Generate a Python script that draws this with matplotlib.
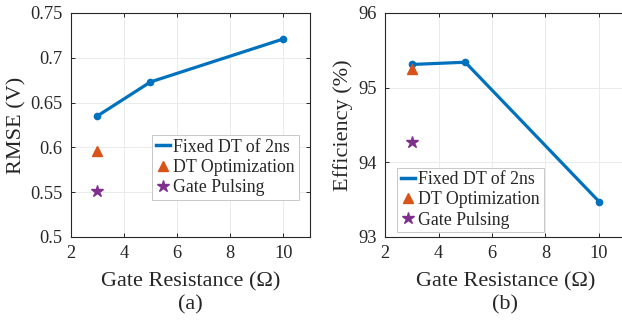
import matplotlib
matplotlib.use('Agg')
import matplotlib.pyplot as plt
from matplotlib.lines import Line2D

plt.rcParams['font.family'] = ['Liberation Serif', 'DejaVu Serif']

# data
gate_r = [3, 5, 10]
rmse_fixed = [0.635, 0.673, 0.721]
eff_fixed = [95.31, 95.34, 93.475]

opt_r = [3]
rmse_opt = [0.596]
eff_opt = [95.255]

pulse_r = [3]
rmse_pulse = [0.551]
eff_pulse = [94.275]

blue = '#0072BD'
orange = '#D95319'
purple = '#7E2F8E'
ink = '#262626'

fig = plt.figure(figsize=(6.22, 3.21), dpi=100)
ax1 = fig.add_axes([0.1137, 0.2617, 0.3847, 0.698])
ax2 = fig.add_axes([0.619, 0.2617, 0.387, 0.698])


def style_axis(ax):
    ax.set_xlim(2, 11)
    ax.set_xticks([2, 4, 6, 8, 10])
    ax.grid(True, color='#ebebeb', linewidth=0.7)
    ax.set_axisbelow(True)
    ax.tick_params(direction='in', length=3, width=0.7, labelsize=13.2,
                   top=True, right=True, pad=6, colors=ink)
    for s in ax.spines.values():
        s.set_linewidth(0.8)
        s.set_color(ink)
    ax.set_xlabel('Gate Resistance (Ω)', fontsize=16, color=ink)
    ax.xaxis.set_label_coords(0.5, -0.158)


def draw(ax, fixed, opt, pulse, anchor, loc):
    ax.plot(gate_r, fixed, '-o', color=blue, lw=2.3, ms=4.5)
    ax.plot(opt_r, opt, '^', color=orange, ms=6.5, ls='none')
    ax.plot(pulse_r, pulse, '*', color=purple, ms=9, ls='none')
    handles = [Line2D([], [], color=blue, lw=2.5),
               Line2D([], [], marker='^', color=orange, ms=6.5, ls='none'),
               Line2D([], [], marker='*', color=purple, ms=9, ls='none')]
    labels = ['Fixed DT of 2ns', 'DT Optimization', 'Gate Pulsing']
    leg = ax.legend(handles, labels, loc=loc, bbox_to_anchor=anchor, fontsize=12.8,
                    fancybox=False, edgecolor='#c8c8c8', framealpha=1,
                    handlelength=0.8, handletextpad=0.2, borderpad=0.2,
                    labelspacing=0.18, borderaxespad=0)
    leg.get_frame().set_linewidth(0.7)
    for t in leg.get_texts():
        t.set_color(ink)


style_axis(ax1)
draw(ax1, rmse_fixed, rmse_opt, rmse_pulse, (0.34, 0.455), 'upper left')
ax1.set_ylim(0.5, 0.75)
ax1.set_yticks([0.5, 0.55, 0.6, 0.65, 0.7, 0.75])
ax1.set_yticklabels(['0.5', '0.55', '0.6', '0.65', '0.7', '0.75'])
ax1.set_ylabel('RMSE (V)', fontsize=16, color=ink)
ax1.yaxis.set_label_coords(-0.185, 0.5)
ax1.text(0.5, -0.305, '(a)', transform=ax1.transAxes, ha='center', va='center',
         fontsize=16, color=ink)

style_axis(ax2)
draw(ax2, eff_fixed, eff_opt, eff_pulse, (0.05, 0.022), 'lower left')
ax2.set_ylim(93, 96)
ax2.set_yticks([93, 94, 95, 96])
ax2.set_ylabel('Efficiency (%)', fontsize=16, color=ink)
ax2.yaxis.set_label_coords(-0.135, 0.5)
ax2.text(0.5, -0.305, '(b)', transform=ax2.transAxes, ha='center', va='center',
         fontsize=16, color=ink)

fig.savefig('out.png', dpi=100)
